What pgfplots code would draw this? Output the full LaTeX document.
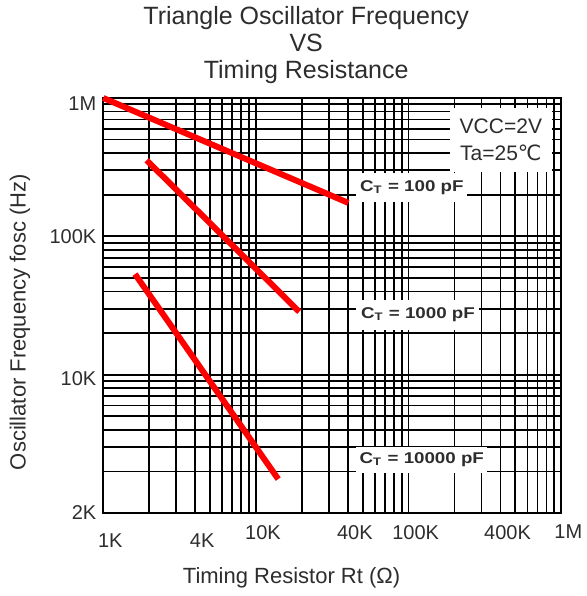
\documentclass[border=0pt]{standalone}
\usepackage{pgfplots}
\pgfplotsset{compat=1.18}
\usepackage{fontspec}
\setmainfont{Liberation Sans}
\newfontfamily\symfont{DejaVu Sans}
\definecolor{curvered}{RGB}{255,0,0}
\definecolor{labelgray}{RGB}{45,45,45}

\begin{document}
\begin{tikzpicture}
\begin{axis}[
    scale only axis,
    width=229pt,
    height=207.5pt,
    xmode=log,
    ymode=log,
    xmin=1e3, xmax=1e6,
    ymin=1e3, ymax=1e6,
    xtick={1e3,4e3,1e4,4e4,1e5,4e5,1e6},
    xticklabels={\raisebox{0pt}[11pt][0pt]{1K},\raisebox{0pt}[11pt][0pt]{4K},10K,40K,100K,400K,1M},
    minor xtick={2e3,3e3,5e3,6e3,7e3,8e3,9e3,
                 2e4,3e4,5e4,6e4,7e4,8e4,9e4,
                 2e5,3e5,5e5,6e5,7e5,8e5,9e5},
    ytick={1e3,1e4,1e5,1e6},
    yticklabels={2K,\raisebox{0pt}[11.2pt][0pt]{10K},100K,\raisebox{0pt}[12pt][0pt]{1M}},
    minor ytick={2e3,3e3,4e3,5e3,6e3,7e3,8e3,9e3,
                 2e4,3e4,4e4,5e4,6e4,7e4,8e4,9e4,
                 2e5,3e5,4e5,5e5,6e5,7e5,8e5,9e5},
    grid=both,
    major grid style={black, line width=0.85pt},
    minor grid style={black, line width=0.85pt},
    axis line style={black, line width=0.9pt},
    tick style={draw=none},
    tick label style={font=\fontsize{10}{12}\selectfont, text=labelgray},
    xticklabel style={xshift=3.5pt, yshift=-2.5pt},
    xlabel={Timing Resistor Rt (Ω)},
    ylabel={Oscillator Frequency fosc (Hz)},
    label style={font=\fontsize{11}{13}\selectfont, text=labelgray},
    xlabel style={at={(axis description cs:0.411,-0.157)}, anchor=center},
    ylabel style={at={(axis description cs:-0.182,0.46)}, anchor=center},
    clip=false,
]
% C_T = 100 pF
\addplot[curvered, line width=3pt] coordinates {(1000,1000000) (40230,174600)};
% C_T = 1000 pF
\addplot[curvered, line width=3pt] coordinates {(1923,354800) (19210,28500)};
% C_T = 10000 pF
\addplot[curvered, line width=3pt] coordinates {(1613,53350) (13990,1758)};

\node[fill=white, inner sep=0pt, minimum width=51pt, minimum height=32pt,
      align=center, font=\fontsize{10.5}{13.5}\selectfont, text=labelgray]
      at (axis cs:4.02e5,4.95e5) {VCC=2V\\Ta=25{\symfont ℃}};
\node[fill=white, inner sep=0pt, minimum width=55.5pt, minimum height=14.5pt,
      font=\fontsize{7.8}{9}\selectfont\bfseries, text=labelgray]
      at (axis cs:1.05e5,2.26e5) {\scalebox{1.2}[1]{C\textsubscript{T} = 100 pF}};
\node[fill=white, inner sep=0pt, minimum width=61.5pt, minimum height=15pt,
      font=\fontsize{7.8}{9}\selectfont\bfseries, text=labelgray]
      at (axis cs:1.15e5,2.70e4) {\scalebox{1.2}[1]{C\textsubscript{T} = 1000 pF}};
\node[fill=white, inner sep=0pt, minimum width=65.5pt, minimum height=13pt,
      font=\fontsize{7.8}{9}\selectfont\bfseries, text=labelgray]
      at (axis cs:1.22e5,2.42e3) {\scalebox{1.2}[1]{C\textsubscript{T} = 10000 pF}};

\node[align=center, font=\fontsize{12.5}{13.5}\selectfont, text=labelgray]
      at (axis description cs:0.443,1.128)
      {Triangle Oscillator Frequency\\VS\\Timing Resistance};
\end{axis}
% page size and margins as in the reference
\pgfresetboundingbox
\path[use as bounding box] ([shift={(-51.65pt,-41.5pt)}]current axis.south west)
    rectangle ++(293.5pt,298pt);
\end{tikzpicture}
\end{document}
